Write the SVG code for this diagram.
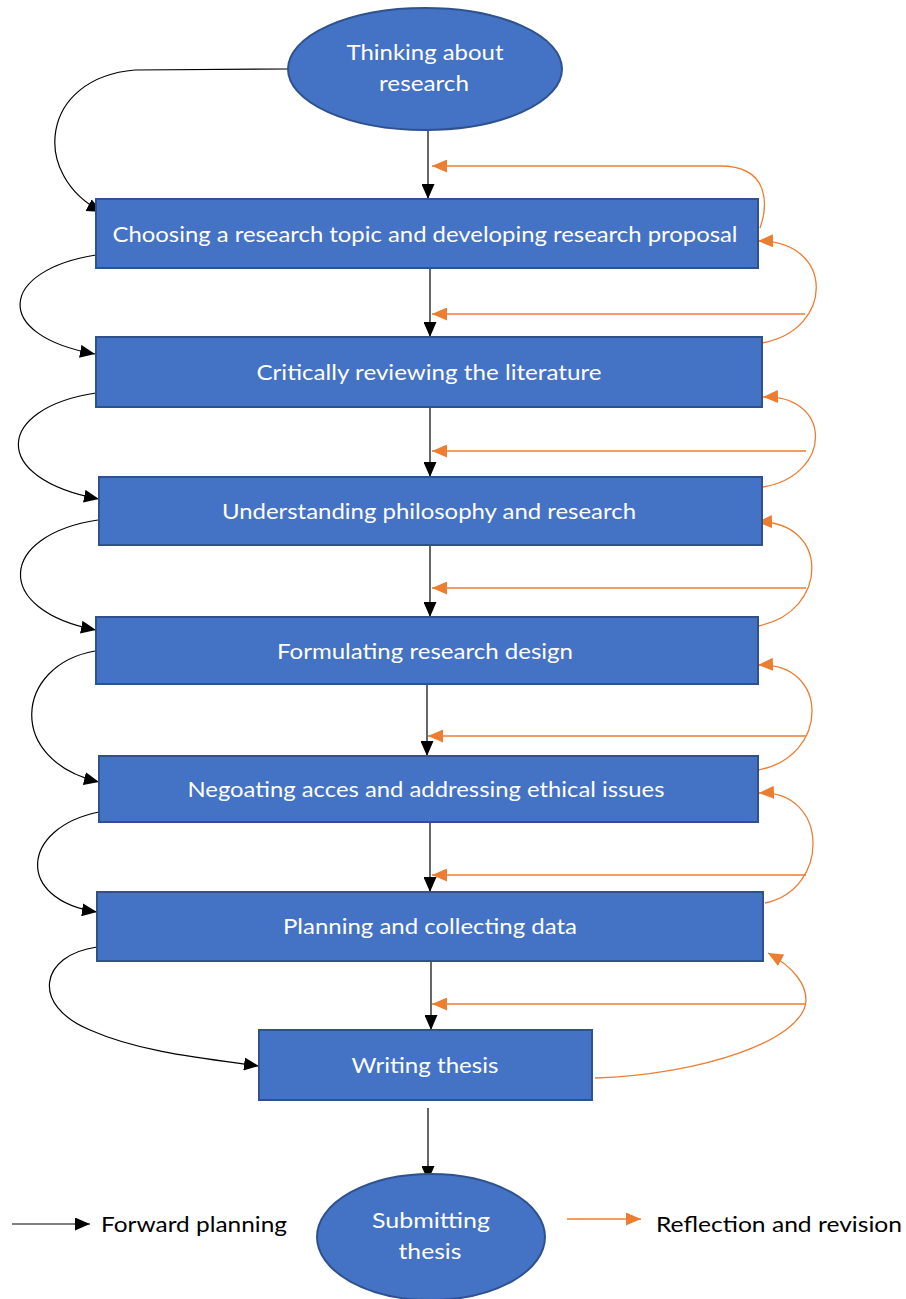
<svg xmlns="http://www.w3.org/2000/svg" width="906" height="1299" viewBox="0 0 906 1299">
<defs>
<marker id="ab" markerUnits="userSpaceOnUse" markerWidth="15" markerHeight="13" refX="15" refY="6.5" orient="auto"><path d="M0,0 L15,6.5 L0,13 z" fill="#000"/></marker>
<marker id="ao" markerUnits="userSpaceOnUse" markerWidth="15" markerHeight="13" refX="15" refY="6.5" orient="auto"><path d="M0,0 L15,6.5 L0,13 z" fill="#ED7D31"/></marker>
<style>
.n{fill:#4472C4;stroke:#2F528F;stroke-width:2}
.t{font-family:Lato,"Liberation Sans",sans-serif;font-size:22px;fill:#fff;text-anchor:middle}
.l{font-family:Lato,"Liberation Sans",sans-serif;font-size:22px;fill:#000}
.b{fill:none;stroke:#000;stroke-width:1.2;marker-end:url(#ab)}
.o{fill:none;stroke:#ED7D31;stroke-width:1.3;marker-end:url(#ao)}
</style>
</defs>
<rect width="906" height="1299" fill="#fff"/>
<g id="connectors">
<path class="b" d="M428 125 L428 199"/>
<path class="b" d="M430 268 L430 337"/>
<path class="b" d="M430 407 L430 477"/>
<path class="b" d="M430 545 L430 617"/>
<path class="b" d="M427 684 L427 756"/>
<path class="b" d="M430 822 L430 892"/>
<path class="b" d="M431 961 L431 1030"/>
<path class="b" d="M428 1108 L428 1181"/>
<path class="b" d="M288 69 L135 70 C40 78 30 175 102 212"/>
<path class="b" d="M96 255 C0 270 -10 335 95 354"/>
<path class="b" d="M96 393 C-4 408 -12 478 99 499"/>
<path class="b" d="M98 520 C-2 535 -8 610 96 630"/>
<path class="b" d="M95 651 C15 665 5 760 99 782"/>
<path class="b" d="M99 812 C20 828 15 900 97 912"/>
<path class="b" d="M97 947 C40 955 30 1005 90 1030 C140 1052 200 1058 259 1066"/>
<path class="o" d="M760 228 C768 205 770 166 720 166 L432 166"/>
<path class="o" d="M762 343 C835 330 835 240 758 241"/>
<path class="o" d="M763 487 C833 475 833 395 763 397"/>
<path class="o" d="M758 626 C830 612 830 520 757 522"/>
<path class="o" d="M758 770 C830 757 830 662 758 665"/>
<path class="o" d="M765 903 C830 890 830 790 759 793"/>
<path class="o" d="M595 1078 C700 1075 805 1040 806 1000 C806 985 795 968 768 953"/>
<path class="o" d="M805 314 L432 314"/>
<path class="o" d="M806 451 L432 451"/>
<path class="o" d="M806 588 L432 588"/>
<path class="o" d="M806 736 L428 736"/>
<path class="o" d="M806 875 L432 875"/>
<path class="o" d="M806 1004 L432 1004"/>
<path class="b" d="M12 1224 L90 1224"/>
<path class="o" d="M567 1219 L641 1219"/>
</g>
<g id="n0"><ellipse class="n" cx="425" cy="69" rx="137" ry="61"/><text class="t" x="425" y="60" textLength="157" lengthAdjust="spacingAndGlyphs">Thinking about</text><text class="t" x="424" y="91" textLength="90" lengthAdjust="spacingAndGlyphs">research</text></g>
<g id="n1"><rect class="n" x="96" y="199" width="662" height="69"/><text class="t" x="425" y="242" textLength="625" lengthAdjust="spacingAndGlyphs">Choosing a research topic and developing research proposal</text></g>
<g id="n2"><rect class="n" x="96" y="337" width="666" height="70"/><text class="t" x="429" y="380" textLength="345" lengthAdjust="spacingAndGlyphs">Critically reviewing the literature</text></g>
<g id="n3"><rect class="n" x="99" y="477" width="663" height="68"/><text class="t" x="429" y="519" textLength="414" lengthAdjust="spacingAndGlyphs">Understanding philosophy and research</text></g>
<g id="n4"><rect class="n" x="96" y="617" width="662" height="67"/><text class="t" x="425" y="659" textLength="296" lengthAdjust="spacingAndGlyphs">Formulating research design</text></g>
<g id="n5"><rect class="n" x="99" y="756" width="659" height="66"/><text class="t" x="426" y="797" textLength="477" lengthAdjust="spacingAndGlyphs">Negoating acces and addressing ethical issues</text></g>
<g id="n6"><rect class="n" x="97" y="892" width="666" height="69"/><text class="t" x="430" y="934" textLength="294" lengthAdjust="spacingAndGlyphs">Planning and collecting data</text></g>
<g id="n7"><rect class="n" x="259" y="1030" width="333" height="70"/><text class="t" x="425" y="1073" textLength="147" lengthAdjust="spacingAndGlyphs">Writing thesis</text></g>
<g id="n8"><ellipse class="n" cx="431" cy="1237" rx="114" ry="63"/><text class="t" x="431" y="1228" textLength="118" lengthAdjust="spacingAndGlyphs">Submitting</text><text class="t" x="430" y="1259" textLength="63" lengthAdjust="spacingAndGlyphs">thesis</text></g>
<g id="legend"><text class="l" x="101" y="1232" textLength="186" lengthAdjust="spacingAndGlyphs">Forward planning</text><text class="l" x="656" y="1232" textLength="246" lengthAdjust="spacingAndGlyphs">Reflection and revision</text></g>
</svg>
